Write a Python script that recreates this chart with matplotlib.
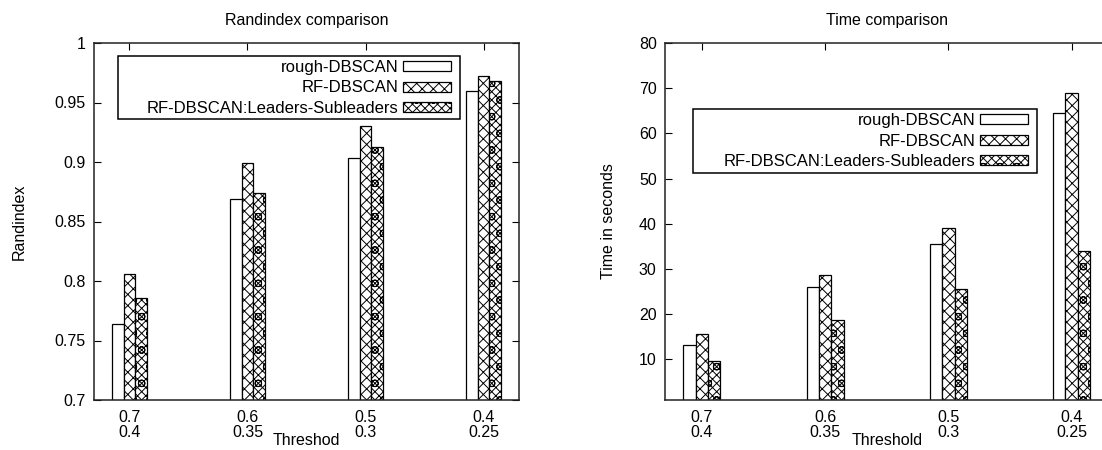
import matplotlib
matplotlib.use("Agg")
import matplotlib.pyplot as plt
import numpy as np
from matplotlib.patches import Patch, Rectangle

plt.rcParams['font.family'] = ['Liberation Sans', 'DejaVu Sans']
plt.rcParams['hatch.linewidth'] = 0.7

# ---- data ----
categories = ['0.7\n0.4', '0.6\n0.35', '0.5\n0.3', '0.4\n0.25']
series_names = ['rough-DBSCAN', 'RF-DBSCAN', 'RF-DBSCAN:Leaders-Subleaders']

rand_rough = [0.764, 0.869, 0.903, 0.960]
rand_rf = [0.806, 0.899, 0.930, 0.972]
rand_ls = [0.786, 0.874, 0.913, 0.968]

time_rough = [13.2, 26.0, 35.5, 64.6]
time_rf = [15.5, 28.7, 39.0, 69.0]
time_ls = [9.7, 18.6, 25.6, 33.9]

rand_yticks = [0.7, 0.75, 0.8, 0.85, 0.9, 0.95, 1.0]
rand_yticklabels = ['0.7', '0.75', '0.8', '0.85', '0.9', '0.95', '1']
time_yticks = [10, 20, 30, 40, 50, 60, 70, 80]

# ---- styling ----
W, H = 1102, 450
FS_TICK = 11.5
FS_TITLE = 11.5
FS_LEG = 12
hatches = [None, 'xxx', 'xxxxo']
offsets = [-0.1, 0.0, 0.1]
bw = 0.1

fig = plt.figure(figsize=(W / 100, H / 100), dpi=100)

def px_axes(x0, x1, y0, y1):
    return fig.add_axes([x0 / W, 1 - y1 / H, (x1 - x0) / W, (y1 - y0) / H])

ax1 = px_axes(94, 519, 43, 400)
ax2 = px_axes(665, 1108.6, 43, 400)

def draw(ax, data, ylim, yticks, yticklabels, title, ylabel, xlabel, ylabel_x, legbox):
    x = np.arange(len(categories))
    handles = []
    for i, vals in enumerate(data):
        ax.bar(x + offsets[i], vals, width=bw, bottom=0, color='white',
               edgecolor='black', linewidth=0.9, hatch=hatches[i], zorder=2)
        handles.append(Patch(facecolor='white', edgecolor='black', linewidth=0.9,
                             hatch=hatches[i], label=series_names[i]))
    ax.set_xlim(-0.3, 3.3)
    ax.set_ylim(*ylim)
    ax.set_xticks(x)
    ax.set_xticklabels(categories, fontsize=FS_TICK, linespacing=1.0)
    ax.set_yticks(yticks)
    ax.set_yticklabels(yticklabels, fontsize=FS_TICK)
    ax.tick_params(axis='y', direction='in', length=5, width=0.8, right=True, pad=6)
    ax.tick_params(axis='x', direction='in', length=5, width=0.8, top=True, bottom=False, pad=7)
    for s in ax.spines.values():
        s.set_linewidth(1.1)
        s.set_color('#222222')
    ax.set_title(title, fontsize=FS_TITLE, pad=13)
    ax.set_ylabel(ylabel, fontsize=FS_TICK)
    ax.yaxis.set_label_coords(ylabel_x, 0.5)
    ax.set_xlabel(xlabel, fontsize=FS_TICK)
    ax.xaxis.set_label_coords(0.5, -0.092)
    bx0, by0, bx1, by1 = legbox
    ax.legend(handles=handles, loc='upper right', markerfirst=False,
              bbox_to_anchor=((bx1 - 9) / W, 1 - (by0 + 4) / H),
              bbox_transform=fig.transFigure, borderaxespad=0,
              fontsize=FS_LEG, handlelength=2.9, handleheight=0.55,
              handletextpad=0.25, labelspacing=0.33, borderpad=0.0,
              frameon=False)
    fig.add_artist(Rectangle((bx0 / W, 1 - by1 / H), (bx1 - bx0) / W, (by1 - by0) / H,
                             transform=fig.transFigure, fill=False,
                             edgecolor='black', linewidth=1.1, zorder=5))

draw(ax1, [rand_rough, rand_rf, rand_ls], (0.7, 1.0), rand_yticks, rand_yticklabels,
     'Randindex comparison', 'Randindex', 'Threshod', (27 - 94) / 425, (118, 56, 460, 119))
draw(ax2, [time_rough, time_rf, time_ls], (1, 80), time_yticks,
     [str(t) for t in time_yticks],
     'Time comparison', 'Time in seconds', 'Threshold', (616 - 665) / 443.6, (693, 109, 1037, 173))

fig.savefig('out.png', dpi=100, facecolor='white')
